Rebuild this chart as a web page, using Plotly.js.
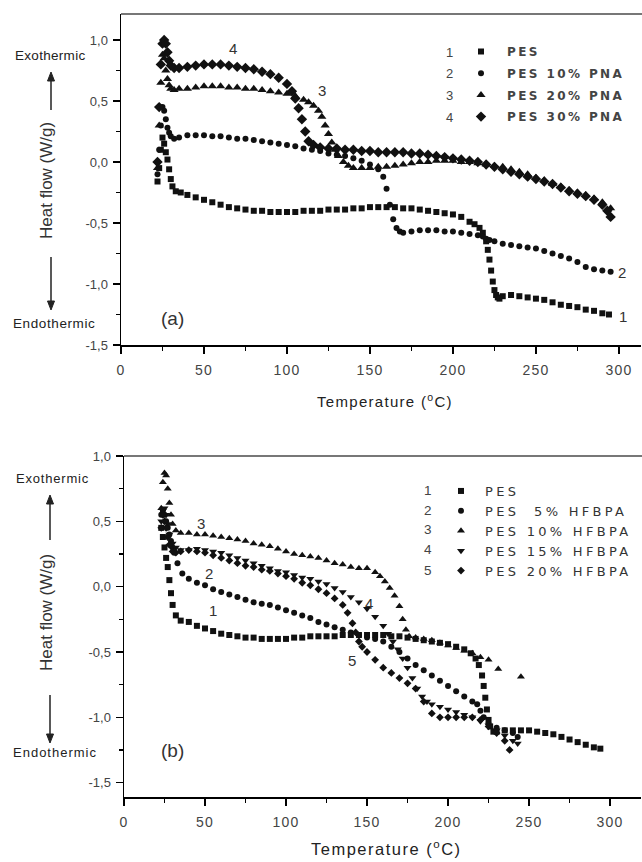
<!DOCTYPE html>
<html><head><meta charset="utf-8">
<script src="https://cdn.plot.ly/plotly-3.0.1.min.js"></script>
<style>html,body{margin:0;padding:0;background:#fff}#chart{width:642px;height:862px}</style>
</head><body><div id="chart"></div>
<script>
// ---------- Panel (a): PES / PNA ----------
const tA1 = [22,23,24,25,26,27,28,29,30,31,33,36,40,45,50,55,60,65,70,75,80,85,90,95,100,105,110,115,120,125,130,135,140,145,150,155,160,165,170,175,180,185,190,195,200,205,210,213,216,218,220,221,222,223,224,225,226,227,228,230,235,240,245,250,255,260,265,270,275,280,285,290,294];
const hA1 = [-0.16,-0.05,0.1,0.2,0.15,0.08,0.02,-0.06,-0.14,-0.2,-0.24,-0.25,-0.27,-0.29,-0.31,-0.33,-0.35,-0.37,-0.38,-0.39,-0.40,-0.40,-0.41,-0.41,-0.41,-0.41,-0.40,-0.40,-0.40,-0.39,-0.39,-0.39,-0.38,-0.38,-0.37,-0.37,-0.37,-0.37,-0.38,-0.38,-0.39,-0.40,-0.41,-0.42,-0.43,-0.45,-0.49,-0.51,-0.54,-0.58,-0.65,-0.72,-0.80,-0.89,-0.98,-1.05,-1.09,-1.11,-1.12,-1.10,-1.09,-1.10,-1.11,-1.12,-1.13,-1.15,-1.17,-1.18,-1.19,-1.21,-1.22,-1.24,-1.25];

const tA2 = [22,23,24,25,26,27,28,29,30,32,35,40,45,50,55,60,65,70,75,80,85,90,95,100,105,110,115,120,125,130,135,140,145,150,155,158,160,162,164,166,168,170,175,180,185,190,195,200,205,210,215,218,220,222,225,230,235,240,245,250,255,260,265,270,275,280,285,290,295];
const hA2 = [-0.1,0.1,0.3,0.45,0.42,0.35,0.28,0.24,0.21,0.19,0.2,0.22,0.22,0.22,0.21,0.21,0.2,0.19,0.19,0.18,0.17,0.16,0.15,0.14,0.13,0.11,0.1,0.09,0.07,0.06,0.05,0.03,0.01,-0.02,-0.06,-0.12,-0.22,-0.35,-0.47,-0.54,-0.57,-0.58,-0.57,-0.56,-0.56,-0.56,-0.57,-0.57,-0.58,-0.59,-0.6,-0.61,-0.63,-0.64,-0.65,-0.67,-0.68,-0.69,-0.70,-0.71,-0.73,-0.75,-0.77,-0.79,-0.82,-0.86,-0.88,-0.89,-0.90];

const tA3 = [22,23,24,25,26,27,28,29,30,32,35,40,45,50,55,60,65,70,75,80,85,90,95,100,105,110,113,116,119,121,123,125,127,129,131,134,137,140,145,150,155,160,165,170,175,180,185,190,195,200,205,210,215,220,225,230,235,240,245,250,255,260,265,270,275,280,285,290,295];
const hA3 = [-0.05,0.3,0.65,0.88,0.85,0.75,0.68,0.63,0.6,0.59,0.6,0.6,0.61,0.62,0.62,0.62,0.61,0.61,0.6,0.6,0.59,0.58,0.57,0.56,0.54,0.51,0.49,0.46,0.42,0.37,0.3,0.23,0.16,0.1,0.05,0.0,-0.03,-0.05,-0.05,-0.05,-0.04,-0.04,-0.03,-0.02,-0.01,0.0,0.0,0.01,0.01,0.01,0.0,0.0,-0.01,-0.02,-0.03,-0.04,-0.06,-0.08,-0.1,-0.13,-0.15,-0.18,-0.2,-0.23,-0.25,-0.27,-0.3,-0.33,-0.38];

const tA4 = [22,23,24,25,26,27,28,29,30,32,35,40,45,50,55,60,65,70,75,80,85,90,95,100,103,105,107,109,111,113,116,120,125,130,135,140,145,150,155,160,165,170,175,180,185,190,195,200,205,210,215,220,225,230,235,240,245,250,255,260,265,270,275,280,285,290,293,295];
const hA4 = [0.0,0.45,0.8,0.97,1.0,0.97,0.9,0.83,0.79,0.77,0.77,0.78,0.79,0.8,0.8,0.8,0.79,0.78,0.77,0.76,0.74,0.72,0.69,0.64,0.58,0.52,0.44,0.35,0.25,0.17,0.14,0.12,0.11,0.11,0.1,0.1,0.09,0.09,0.08,0.08,0.08,0.08,0.07,0.07,0.06,0.05,0.04,0.03,0.02,0.01,0.0,-0.02,-0.04,-0.06,-0.08,-0.1,-0.12,-0.14,-0.16,-0.18,-0.21,-0.24,-0.26,-0.28,-0.31,-0.35,-0.4,-0.45];

// ---------- Panel (b): PES / HFBPA ----------
const tB1 = [23,24,25,26,27,28,29,30,32,35,40,45,50,55,60,65,70,75,80,85,90,95,100,105,110,115,120,125,130,135,140,145,150,155,160,165,170,175,180,185,190,195,200,205,210,214,217,219,221,222,223,224,225,226,228,230,235,240,245,250,255,260,265,270,275,280,285,290,294];
const hB1 = [0.45,0.38,0.3,0.22,0.15,0.05,-0.05,-0.14,-0.22,-0.26,-0.27,-0.3,-0.32,-0.34,-0.36,-0.37,-0.38,-0.39,-0.39,-0.4,-0.4,-0.4,-0.4,-0.39,-0.39,-0.38,-0.38,-0.38,-0.38,-0.37,-0.37,-0.37,-0.37,-0.37,-0.37,-0.38,-0.38,-0.39,-0.4,-0.41,-0.42,-0.43,-0.44,-0.46,-0.48,-0.51,-0.55,-0.6,-0.68,-0.76,-0.85,-0.94,-1.02,-1.07,-1.11,-1.11,-1.1,-1.1,-1.1,-1.1,-1.11,-1.12,-1.13,-1.15,-1.17,-1.19,-1.21,-1.23,-1.24];

const tB2 = [23,24,25,26,27,28,29,30,31,33,36,40,45,50,55,60,65,70,75,80,85,90,95,100,105,110,115,120,125,130,135,140,145,150,155,160,165,170,175,180,185,190,195,200,205,210,215,218,220,222,225,230,235,240,243];
const hB2 = [0.55,0.58,0.55,0.5,0.45,0.4,0.35,0.3,0.26,0.18,0.1,0.06,0.03,0.01,-0.02,-0.04,-0.06,-0.08,-0.1,-0.12,-0.13,-0.14,-0.16,-0.18,-0.2,-0.22,-0.24,-0.27,-0.29,-0.31,-0.33,-0.35,-0.37,-0.39,-0.40,-0.42,-0.46,-0.5,-0.55,-0.6,-0.64,-0.68,-0.72,-0.76,-0.8,-0.84,-0.88,-0.9,-0.95,-1.0,-1.05,-1.08,-1.1,-1.12,-1.15];

const tB3 = [23,24,25,26,27,28,29,30,32,35,40,45,50,55,60,65,70,75,80,85,90,95,100,105,110,115,120,125,130,135,140,145,150,155,158,161,164,167,170,172,174,176,180,185,190,195,200,205,210,215,220,225,231,245];
const hB3 = [0.6,0.8,0.87,0.85,0.75,0.64,0.55,0.48,0.43,0.41,0.41,0.4,0.4,0.39,0.38,0.37,0.36,0.35,0.33,0.32,0.31,0.29,0.27,0.25,0.24,0.23,0.22,0.2,0.18,0.17,0.15,0.14,0.14,0.11,0.08,0.04,-0.01,-0.07,-0.15,-0.25,-0.33,-0.38,-0.39,-0.4,-0.41,-0.43,-0.45,-0.47,-0.49,-0.51,-0.54,-0.56,-0.63,-0.69];

const tB4 = [23,24,25,26,27,28,30,32,35,40,45,50,55,60,65,70,75,80,85,90,95,100,105,110,115,120,125,130,135,140,145,150,155,160,163,166,169,172,175,178,181,184,187,190,195,200,205,210,215,220,225,230,235,240,243];
const hB4 = [0.5,0.58,0.6,0.55,0.48,0.4,0.33,0.3,0.28,0.28,0.29,0.28,0.27,0.26,0.24,0.22,0.2,0.18,0.16,0.14,0.12,0.11,0.09,0.07,0.06,0.04,0.02,-0.01,-0.04,-0.08,-0.12,-0.17,-0.23,-0.3,-0.36,-0.42,-0.48,-0.55,-0.62,-0.7,-0.78,-0.84,-0.88,-0.9,-0.92,-0.94,-0.96,-0.98,-1.0,-1.03,-1.06,-1.1,-1.14,-1.18,-1.2];

const tB5 = [23,24,25,26,27,28,30,32,35,40,45,50,55,60,65,70,75,80,85,90,95,100,105,110,115,120,125,130,135,138,141,143,145,147,150,155,160,165,170,175,180,185,190,195,200,205,210,215,220,225,230,235,238];
const hB5 = [0.45,0.55,0.5,0.45,0.38,0.32,0.27,0.26,0.27,0.28,0.27,0.26,0.24,0.22,0.2,0.18,0.16,0.15,0.13,0.12,0.1,0.08,0.06,0.03,0.01,-0.02,-0.05,-0.09,-0.14,-0.2,-0.28,-0.35,-0.42,-0.46,-0.5,-0.56,-0.62,-0.66,-0.7,-0.74,-0.78,-0.88,-0.97,-1.0,-1.0,-1.0,-1.0,-1.0,-1.02,-1.07,-1.12,-1.18,-1.25];

// ---------- names / ticks ----------
const namesA = ['PES','PES 10% PNA','PES 20% PNA','PES 30% PNA'];
const namesB = ['PES','PES\u00a0 5% HFBPA','PES 10% HFBPA','PES 15% HFBPA','PES 20% HFBPA'];
const xTickVals = [0,50,100,150,200,250,300];
const xTickText = ['0','50','100','150','200','250','300'];
const yTickVals = [-1.5,-1.0,-0.5,0,0.5,1.0];
const yTickText = ['-1,5','-1,0','-0,5','0,0','0,5','1,0'];

// ---------- layout helpers ----------
const W = 642, H = 862;
const PX = x => x / W;
const PY = y => 1 - y / H;
const FONT = 'Liberation Sans, Arial, sans-serif';
const INK = '#111';
const sp = (s, ls) => '<span style="letter-spacing:' + ls + 'px">' + s + '</span>';

function trace(x, y, name, sym, size, xa, ya, leg, ls, grp) {
  return {x: x, y: y, name: sp(name, ls), type: 'scatter', mode: 'markers',
    xaxis: xa, yaxis: ya, legend: leg, legendgroup: grp,
    marker: {symbol: sym, size: size, color: INK, line: {width: 0}}};
}

const data = [
  trace(tA1, hA1, namesA[0], 'square', 6, 'x', 'y', 'legend', 2.4, 'a1'),
  trace(tA2, hA2, namesA[1], 'circle', 6, 'x', 'y', 'legend', 2.4, 'a2'),
  trace(tA3, hA3, namesA[2], 'triangle-up', 8, 'x', 'y', 'legend', 2.4, 'a3'),
  trace(tA4, hA4, namesA[3], 'diamond', 8, 'x', 'y', 'legend', 2.4, 'a4'),
  trace(tB1, hB1, namesB[0], 'square', 6, 'x2', 'y2', 'legend2', 3.3, 'b'),
  trace(tB2, hB2, namesB[1], 'circle', 6, 'x2', 'y2', 'legend2', 3.3, 'b'),
  trace(tB3, hB3, namesB[2], 'triangle-up', 7, 'x2', 'y2', 'legend2', 3.3, 'b'),
  trace(tB4, hB4, namesB[3], 'triangle-down', 7, 'x2', 'y2', 'legend2', 3.3, 'b'),
  trace(tB5, hB5, namesB[4], 'diamond', 6, 'x2', 'y2', 'legend2', 3.3, 'b')
];

function xax(dom, range, anchor) {
  return {domain: dom, range: range, anchor: anchor, showline: true, linecolor: '#000', linewidth: 2,
    ticks: 'outside', ticklen: 7, tickwidth: 1.3, tickcolor: '#000', tickmode: 'array',
    tickvals: xTickVals, ticktext: xTickText.map(t => sp(t, 1.2)), ticklabelstandoff: 4,
    minor: {ticks: 'outside', ticklen: 4, tickwidth: 1.2, tickcolor: '#000', tickmode: 'linear', tick0: 0, dtick: 25, showgrid: false},
    showgrid: false, zeroline: false, tickfont: {family: FONT, size: 14, color: '#444'}};
}
function yax(dom, range, anchor) {
  return {domain: dom, range: range, anchor: anchor, showline: true, linecolor: '#000', linewidth: 1.5,
    ticks: 'outside', ticklen: 7, tickwidth: 1.3, tickcolor: '#000', tickmode: 'array',
    tickvals: yTickVals, ticktext: yTickText, ticklabelstandoff: 2,
    minor: {ticks: 'outside', ticklen: 4, tickwidth: 1.2, tickcolor: '#000', tickmode: 'linear', tick0: 0, dtick: 0.25, showgrid: false},
    showgrid: false, zeroline: false, tickfont: {family: FONT, size: 13, color: '#444'}};
}

function txt(x, y, s, size, color, extra) {
  return Object.assign({xref: 'paper', yref: 'paper', x: PX(x), y: PY(y), text: s, showarrow: false,
    xanchor: 'center', yanchor: 'middle', font: {family: FONT, size: size, color: color || '#222'}}, extra || {});
}

// arrows drawn as shapes (line + filled head)
function arrowShapes(x, tipY, tailY) {
  const dir = tailY > tipY ? 1 : -1;
  const headL = 9, headW = 3.5;
  const baseY = tipY + dir * headL;
  return [
    {type: 'line', xref: 'paper', yref: 'paper', x0: PX(x), x1: PX(x), y0: PY(tailY), y1: PY(baseY), line: {color: '#222', width: 1.5}},
    {type: 'path', xref: 'paper', yref: 'paper', fillcolor: '#222', line: {color: '#222', width: 1},
      path: 'M ' + PX(x - headW) + ' ' + PY(baseY) + ' L ' + PX(x) + ' ' + PY(tipY) + ' L ' + PX(x + headW) + ' ' + PY(baseY) + ' Z'}
  ];
}

const annotations = [
  // panel a side texts
  txt(50, 56, sp('Exothermic', 0.3), 13.5),
  txt(46, 180, 'Heat flow (W/g)', 17, '#333', {textangle: -90}),
  txt(54, 323, sp('Endothermic', 0.6), 13.5),
  txt(173, 318, '(a)', 19, '#333'),
  txt(385, 401, sp('Temperature (<sup>o</sup>C)', 1.3), 15),
  // curve numbers a
  txt(233, 48, '4', 15, '#333'),
  txt(322, 90, '3', 15, '#333'),
  txt(622, 273, '2', 15, '#333'),
  txt(623, 316, '1', 15, '#333'),
  // legend numbers a
  txt(449, 52, '1', 13, '#444'),
  txt(449, 73, '2', 13, '#444'),
  txt(449, 95, '3', 13, '#444'),
  txt(449, 117, '4', 13, '#444'),
  // panel b side texts
  txt(52, 478, sp('Exothermic', 0.8), 13),
  txt(46, 612, 'Heat flow (W/g)', 17, '#333', {textangle: -90}),
  txt(55, 752, sp('Endothermic', 1.0), 13),
  txt(173, 750, '(b)', 19, '#333'),
  txt(386, 848, sp('Temperature (<sup>o</sup>C)', 1.5), 16.5),
  // curve numbers b
  txt(201, 523, '3', 15, '#333'),
  txt(209, 573, '2', 15, '#333'),
  txt(213, 610, '1', 15, '#333'),
  txt(369, 603, '4', 15, '#333'),
  txt(352, 660, '5', 15, '#333'),
  // legend numbers b
  txt(428, 490, '1', 13.5, '#444'),
  txt(428, 510, '2', 13.5, '#444'),
  txt(428, 529, '3', 13.5, '#444'),
  txt(428, 549, '4', 13.5, '#444'),
  txt(428, 570, '5', 13.5, '#444')
];

const shapes = [
  {type: 'line', xref: 'paper', yref: 'paper', x0: PX(121), x1: 1, y0: PY(14), y1: PY(14), line: {color: '#777', width: 2}},
  {type: 'line', xref: 'paper', yref: 'paper', x0: PX(124), x1: 1, y0: PY(456), y1: PY(456), line: {color: '#777', width: 2}}
].concat(arrowShapes(51, 72, 110), arrowShapes(51, 310, 257), arrowShapes(50, 495, 540), arrowShapes(50, 743, 695));

const layout = {
  width: W, height: H, margin: {l: 0, r: 0, t: 0, b: 0}, paper_bgcolor: '#fff', plot_bgcolor: 'rgba(0,0,0,0)',
  showlegend: true, font: {family: FONT, color: '#222'},
  xaxis: xax([PX(121), PX(641)], [0, 313.3], 'y'),
  yaxis: yax([PY(345), PY(14)], [-1.5, 1.213], 'x'),
  xaxis2: xax([PX(124), PX(641)], [0, 319.1], 'y2'),
  yaxis2: yax([PY(797), PY(456)], [-1.61, 1.0], 'x2'),
  legend: {x: PX(455), y: PY(37), xanchor: 'left', yanchor: 'top', bgcolor: 'rgba(0,0,0,0)', borderwidth: 0,
    itemwidth: 42, tracegroupgap: 2.7, traceorder: 'grouped', font: {family: 'DejaVu Sans, sans-serif', size: 12, color: '#444', weight: 'bold'}},
  legend2: {x: PX(437), y: PY(476), xanchor: 'left', yanchor: 'top', bgcolor: 'rgba(0,0,0,0)', borderwidth: 0,
    itemwidth: 38, tracegroupgap: 0, font: {family: 'DejaVu Sans, sans-serif', size: 13, color: '#333'}},
  annotations: annotations, shapes: shapes
};

Plotly.newPlot('chart', data, layout, {staticPlot: true, displayModeBar: false});
</script></body></html>
